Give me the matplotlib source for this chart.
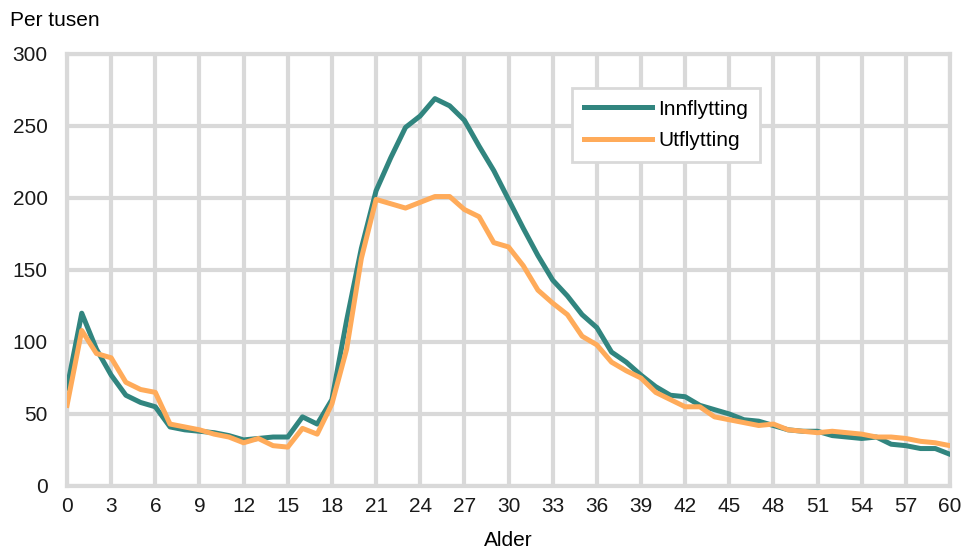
import matplotlib
matplotlib.use("Agg")
import matplotlib.pyplot as plt
import numpy as np

plt.rcParams['font.family'] = ['Liberation Sans', 'DejaVu Sans']

# Alder 0-60
alder = np.arange(0, 61)

innflytting = [68, 120, 95, 77, 63, 58, 55, 41, 39, 38,
               37, 35, 32, 33, 34, 34, 48, 43, 60, 115,
               165, 205, 228, 249, 257, 269, 264, 254, 236, 219,
               199, 179, 160, 143, 132, 119, 110, 93, 86, 77,
               69, 63, 62, 56, 53, 50, 46, 45, 42, 39,
               38, 38, 35, 34, 33, 34, 29, 28, 26, 26, 22]

utflytting = [56, 108, 92, 89, 72, 67, 65, 43, 41, 39,
              36, 34, 30, 33, 28, 27, 40, 36, 57, 95,
              158, 199, 196, 193, 197, 201, 201, 192, 187, 169,
              166, 153, 136, 127, 119, 104, 98, 86, 80, 75,
              65, 60, 55, 55, 48, 46, 44, 42, 43, 39,
              38, 37, 38, 37, 36, 34, 34, 33, 31, 30, 28]

xticks = list(range(0, 61, 3))
yticks = [0, 50, 100, 150, 200, 250, 300]

teal = '#31857f'
orange = '#ffab5a'
grid = '#d9d9d9'

fig = plt.figure(figsize=(9.63, 5.52), dpi=100)
ax = fig.add_axes([0.0696, 0.1196, 0.9169, 0.7826])

ax.plot(alder, innflytting, color=teal, linewidth=3.6, label='Innflytting', zorder=3)
ax.plot(alder, utflytting, color=orange, linewidth=3.6, label='Utflytting', zorder=3)

ax.set_xlim(0, 60)
ax.set_ylim(0, 300)
ax.set_xticks(xticks)
ax.set_yticks(yticks)
ax.tick_params(length=0, labelsize=15, colors='#1a1a1a')
ax.tick_params(axis='x', pad=8)
ax.tick_params(axis='y', pad=14)
ax.grid(True, color=grid, linewidth=3, zorder=0)
ax.set_axisbelow(True)
for s in ax.spines.values():
    s.set_color(grid)
    s.set_linewidth(3)

ax.set_xlabel('Alder', fontsize=15, labelpad=11)
fig.text(0.010, 0.962, 'Per tusen', fontsize=15, ha='left', va='center')

leg = ax.legend(loc='upper left', bbox_to_anchor=(0.572, 0.921), fontsize=15,
                frameon=True, fancybox=False, handlelength=3.3, handletextpad=0.3,
                borderpad=0.55, labelspacing=0.6, borderaxespad=0)
leg.get_frame().set_edgecolor(grid)
leg.get_frame().set_linewidth(2)
leg.get_frame().set_alpha(1)

plt.savefig('out.png', dpi=100)
